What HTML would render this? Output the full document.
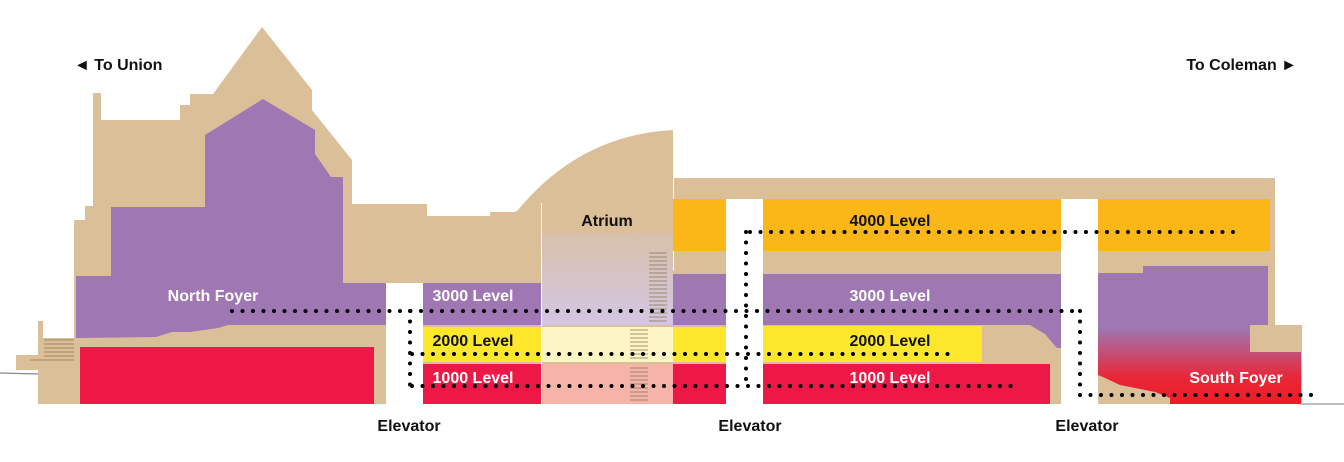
<!DOCTYPE html>
<html><head><meta charset="utf-8"><style>
html,body{margin:0;padding:0;background:#fff;}
svg{display:block;}
text{font-family:"Liberation Sans",sans-serif;font-weight:bold;}
</style></head><body>
<svg width="1344" height="462" viewBox="0 0 1344 462" xmlns="http://www.w3.org/2000/svg">
<defs>
<linearGradient id="atr" x1="0" y1="0" x2="0" y2="1">
<stop offset="0" stop-color="#dbbf98"/><stop offset="1" stop-color="#d2c6e4"/>
</linearGradient>
<linearGradient id="sf" x1="0" y1="0" x2="0" y2="1">
<stop offset="0" stop-color="#9e77b3"/><stop offset="0.45" stop-color="#9e77b3"/><stop offset="0.8" stop-color="#e8283a"/><stop offset="1" stop-color="#ed1c24"/>
</linearGradient>
</defs>
<line x1="0" y1="373" x2="80" y2="375" stroke="#888" stroke-width="1.2"/>
<line x1="1300" y1="404" x2="1344" y2="404" stroke="#999" stroke-width="1.2"/>
<path fill="#dbbf98" d="M38,404 L38,321 L43,321 L43,338 L74,338 L74,220 L85,220 L85,206 L93,206 L93,93 L101,93 L101,120 L180,120 L180,105 L190,105 L190,94 L213,94 L262,27 L312,90 L312,110 L352,160 L352,204 L427,204 L427,216 L490,216 L490,212 L515,212 L518,210 Q580,135 673,130 L673,178 L1275,178 L1275,325 L1302,325 L1302,404 Z"/>
<path fill="#dbbf98" d="M16,370 L16,355 L38,355 L38,370 Z"/>
<g stroke="#8b7355" stroke-width="0.8">
<line x1="44" y1="340" x2="74" y2="340"/><line x1="44" y1="344" x2="74" y2="344"/><line x1="44" y1="348" x2="74" y2="348"/><line x1="44" y1="352" x2="74" y2="352"/><line x1="44" y1="356" x2="74" y2="356"/><line x1="30" y1="360" x2="74" y2="360"/>
</g>
<path fill="#9e77b3" d="M76,276 L111,276 L111,207 L205,207 L205,135 L263,99 L315,130 L315,154 L331,177 L343,177 L343,283 L386,283 L386,325 L228,325 L218,328 L190,332 L172,332 L156,337 L76,338 Z"/>
<rect x="80" y="347" width="294" height="57" fill="#ed1846"/>
<rect x="386" y="283" width="37" height="121" fill="#fff"/>
<rect x="423" y="283" width="119" height="42" fill="#9e77b3"/>
<rect x="423" y="327" width="119" height="35" fill="#fde72a"/>
<rect x="423" y="364" width="119" height="40" fill="#ed1846"/>
<rect x="542" y="203" width="131" height="122" fill="url(#atr)"/>
<rect x="542" y="203" width="131" height="30" fill="#dbbf98"/>
<rect x="542" y="327" width="131" height="35" fill="#fdf5c4"/>
<rect x="542" y="364" width="131" height="40" fill="#f6b3a8"/>
<line x1="541.5" y1="203" x2="541.5" y2="404" stroke="#fff" stroke-width="1"/>
<line x1="673.5" y1="150" x2="673.5" y2="270" stroke="#fff" stroke-width="1"/>
<g stroke="#8b7355" stroke-width="0.8">
<path d="M649,253h18M649,257h18M649,261h18M649,265h18M649,269h18M649,273h18M649,277h18M649,281h18M649,285h18M649,289h18M649,293h18M649,297h18M649,301h18M649,305h18M649,309h18M649,313h18M649,317h18M649,321h18"/>
<path d="M630,330h18M630,334h18M630,338h18M630,342h18M630,346h18M630,350h18M630,354h18M630,358h18M630,368h18M630,372h18M630,376h18M630,380h18M630,384h18M630,388h18M630,392h18M630,396h18M630,400h18"/>
</g>
<rect x="673" y="199" width="53" height="52" fill="#fbb617"/>
<rect x="763" y="199" width="298" height="52" fill="#fbb617"/>
<rect x="1098" y="199" width="172" height="52" fill="#fbb617"/>
<rect x="673" y="274" width="53" height="51" fill="#9e77b3"/>
<rect x="763" y="274" width="298" height="51" fill="#9e77b3"/>
<path fill="#9e77b3" d="M1030,325 L1061,325 L1061,348 L1057,348 L1050,340 L1045,334 L1038,330 Z"/>
<rect x="673" y="327" width="53" height="35" fill="#fde72a"/>
<rect x="763" y="326" width="219" height="36" fill="#fde72a"/>
<rect x="673" y="364" width="53" height="40" fill="#ed1846"/>
<rect x="763" y="364" width="287" height="40" fill="#ed1846"/>
<path fill="url(#sf)" d="M1098,273 L1143,273 L1143,266 L1268,266 L1268,325 L1250,325 L1250,352 L1301,352 L1301,404 L1170,404 L1170,398 L1155,392 L1120,385 L1105,378 L1098,375 Z"/>
<rect x="726" y="199" width="37" height="205" fill="#fff"/>
<rect x="1061" y="199" width="37" height="205" fill="#fff"/>
<g stroke="#000" stroke-width="4" stroke-linecap="round" stroke-dasharray="0 10.5" fill="none">
<line x1="750" y1="232" x2="1236" y2="232"/>
<line x1="232" y1="311" x2="1082" y2="311"/>
<line x1="410" y1="311" x2="410" y2="386"/>
<line x1="746" y1="232" x2="746" y2="386"/>
<line x1="1080" y1="311" x2="1080" y2="395"/>
<line x1="412" y1="354" x2="955" y2="354"/>
<line x1="412" y1="386" x2="1020" y2="386"/>
<line x1="1080" y1="395" x2="1318" y2="395"/>
</g>
<g fill="#fff" font-size="16" text-anchor="middle">
<text x="213" y="301">North Foyer</text>
<text x="473" y="301">3000 Level</text>
<text x="890" y="301">3000 Level</text>
<text x="1236" y="383">South Foyer</text>
</g>
<g fill="#111" font-size="16" text-anchor="middle">
<text x="473" y="346">2000 Level</text>
<text x="890" y="346">2000 Level</text>
<text x="473" y="383" fill="#fff">1000 Level</text>
<text x="890" y="383" fill="#fff">1000 Level</text>
<text x="890" y="226">4000 Level</text>
<text x="607" y="226">Atrium</text>
<text x="409" y="431">Elevator</text>
<text x="750" y="431">Elevator</text>
<text x="1087" y="431">Elevator</text>
</g>
<g fill="#111" font-size="16">
<text x="74" y="70">◄ To Union</text>
<text x="1297" y="70" text-anchor="end">To Coleman ►</text>
</g>
</svg>
</body></html>
